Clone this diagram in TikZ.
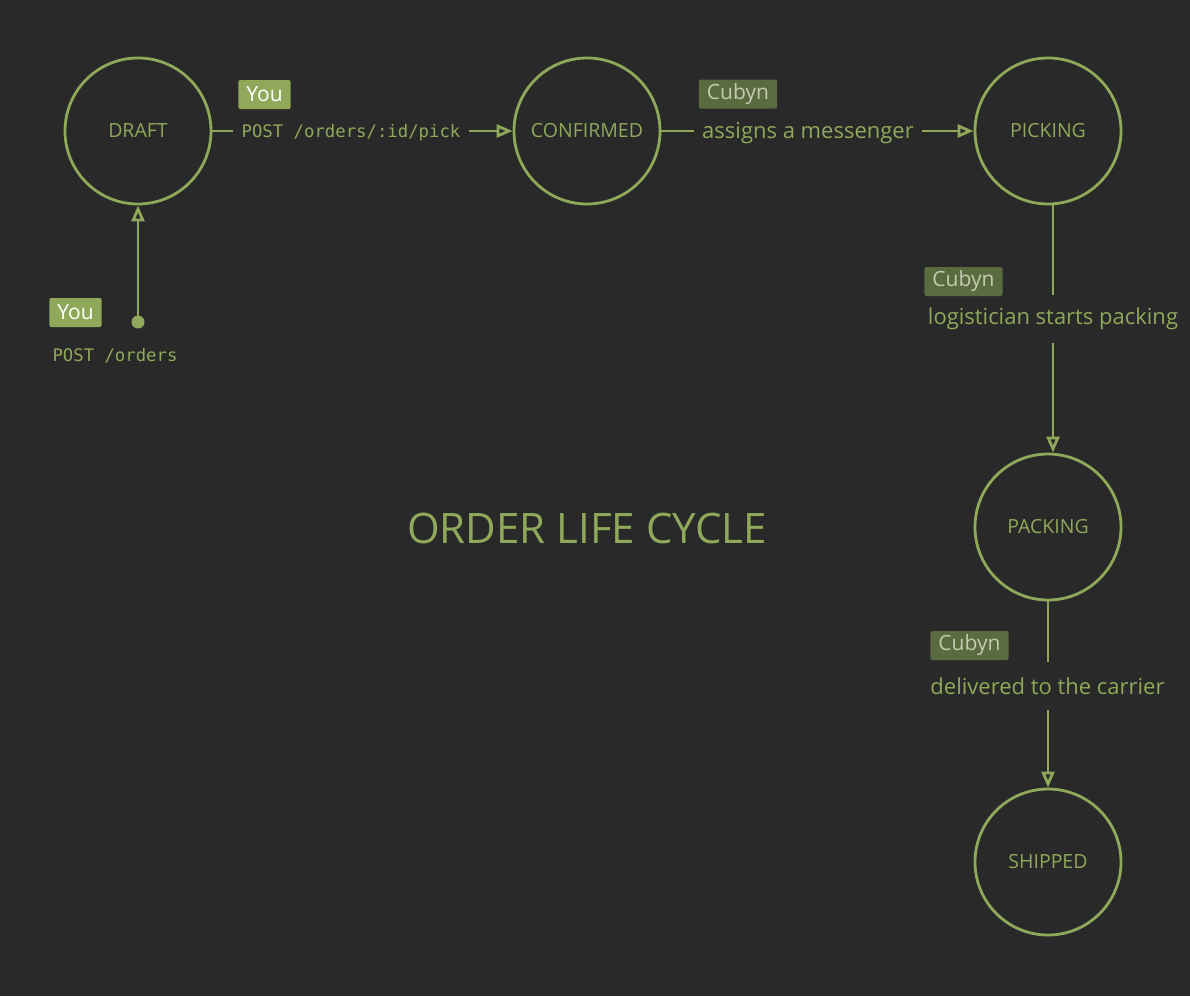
\documentclass[tikz,border=0pt]{standalone}
\usepackage{fontspec}
\setmainfont{Open Sans}
\setmonofont{DejaVu Sans Mono}
\usetikzlibrary{arrows.meta,calc}
\definecolor{bg}{HTML}{292929}
\definecolor{gr}{HTML}{8FA85A}
\definecolor{cubbg}{HTML}{5B6B40}
\definecolor{cubtx}{HTML}{C3CAB0}
\tikzset{
  state/.style={circle, draw=gr, line width=2.8pt, minimum size=146pt, inner sep=0pt,
    text=gr, font=\fontsize{19.5}{22}\selectfont},
  conn/.style={draw=gr, line width=2.8pt, -{Triangle[open, length=16pt, width=13pt]}},
  elabel/.style={fill=bg, text=gr, font=\fontsize{22}{26}\selectfont, inner sep=0pt},
  mlabel/.style={fill=bg, text=gr, font=\ttfamily\fontsize{17.3}{20}\selectfont, inner sep=0pt},
  cubyn/.style={fill=cubbg, text=cubtx, rounded corners=2pt, minimum height=29pt,
    inner xsep=8pt, inner ysep=0pt, font=\fontsize{21}{24}\selectfont},
  you/.style={fill=gr, text=white, rounded corners=2pt, minimum height=29pt,
    inner xsep=8pt, inner ysep=0pt, font=\fontsize{21}{24}\selectfont},
}
\begin{document}
\begin{tikzpicture}[x=1pt,y=-1pt]
\fill[bg] (0,0) rectangle (1190,996);
\useasboundingbox (0,0) rectangle (1190,996);

\node[state] (draft) at (138,131) {\raisebox{-1.5pt}{DRAFT}};
\node[state] (confirmed) at (587,131) {\raisebox{-1.5pt}{CONFIRMED}};
\node[state] (picking) at (1048,131) {\raisebox{-1.5pt}{PICKING}};
\node[state] (packing) at (1048,527) {\raisebox{-1.5pt}{PACKING}};
\node[state] (shipped) at (1048,862) {\raisebox{-1.5pt}{SHIPPED}};

\node[text=gr, font=\fontsize{42}{48}\selectfont] (title) at (587,528) {ORDER LIFE CYCLE};

% initial
\coordinate (start) at (138,322);
\fill[gr] (start) circle (6.5pt);
\draw[conn] (start) -- (draft);
\node[you] (you1) at (75.5,312.5) {You};
\node[text=gr, font=\ttfamily\fontsize{17.3}{20}\selectfont, inner sep=0pt] (postorders) at (115,356) {POST /orders};

% draft -> confirmed
\draw[conn] (draft) -- (confirmed);
\node[mlabel, minimum height=20pt, inner xsep=9pt] (l1) at (351,132.5) {POST /orders/:id/pick};
\node[you] (you2) at (264.5,94.5) {You};

% confirmed -> picking
\draw[conn] (confirmed) -- (picking);
\node[elabel, minimum height=24pt, inner xsep=8pt] (l2) at (808,133) {assigns a messenger};
\node[cubyn] (c1) at (738,94) {Cubyn};

% picking -> packing
\coordinate (pk1) at ($(picking.south)+(5,0)$);
\coordinate (pk2) at ($(packing.north)+(5,0)$);
\draw[conn] (pk1) -- (pk2);
\node[elabel, minimum height=48pt] (l3) at (1053,319) {\raisebox{-2pt}{logistician starts packing}};
\node[cubyn] (c2) at (963.5,281.5) {Cubyn};

% packing -> shipped
\draw[conn] (packing) -- (shipped);
\node[elabel, minimum height=48pt] (l4) at (1047.5,686) {\raisebox{-2pt}{delivered to the carrier}};
\node[cubyn] (c3) at (969.5,645.5) {Cubyn};
\end{tikzpicture}
\end{document}
